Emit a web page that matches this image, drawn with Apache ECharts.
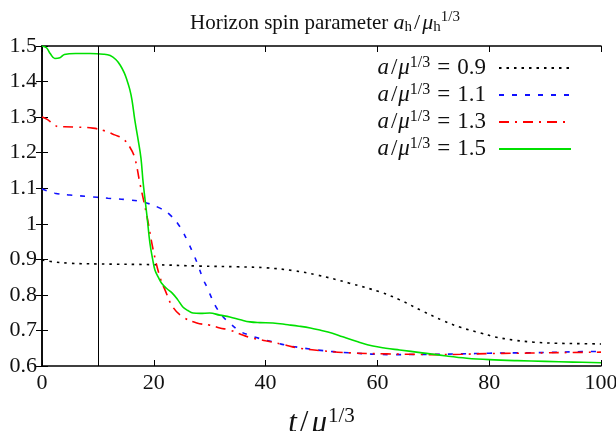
<!DOCTYPE html>
<html>
<head>
<meta charset="utf-8">
<script src="https://cdn.jsdelivr.net/npm/echarts@6/dist/echarts.min.js"></script>
<style>
html, body { margin: 0; padding: 0; background: #fff; }
#chart0 { width: 616px; height: 431px; }
</style>
</head>
<body>
<div id="chart0"></div>
<script>
'use strict';

// a/mu^(1/3) = 0.9
var t09 = [0, 2, 5, 10, 20, 28.3, 35, 40.2, 45, 49.2, 55, 60.5, 64, 68, 71.7, 75, 78.4, 81, 84.3, 88, 92, 96, 100];
var spin09 = [0.898, 0.893, 0.889, 0.887, 0.885, 0.881, 0.879, 0.876, 0.868, 0.856, 0.833, 0.808, 0.786, 0.755, 0.728, 0.708, 0.693, 0.682, 0.673, 0.667, 0.664, 0.663, 0.662];
// a/mu^(1/3) = 1.1
var t11 = [0, 2.3, 5, 8, 11.8, 15, 18.1, 21.1, 22.9, 24.7, 26.1, 27, 27.9, 28.8, 29.5, 31, 32.3, 33.5, 35.4, 37, 39, 41.5, 43.8, 46.5, 49.2, 55, 62.8, 70, 75, 80, 85, 90, 95, 100];
var spin11 = [1.098, 1.086, 1.081, 1.077, 1.072, 1.068, 1.061, 1.044, 1.025, 0.991, 0.949, 0.918, 0.884, 0.845, 0.822, 0.77, 0.74, 0.722, 0.698, 0.687, 0.677, 0.667, 0.658, 0.651, 0.645, 0.637, 0.632, 0.633, 0.634, 0.636, 0.637, 0.638, 0.64, 0.641];
// a/mu^(1/3) = 1.3
var t13 = [0, 1, 2, 3, 4, 6, 9.1, 11.3, 13, 14.5, 15.7, 16.6, 17.5, 18.8, 19.9, 21.1, 22, 23.4, 25.2, 27.7, 30, 31.8, 33.6, 35.4, 37, 40, 43, 46, 50, 55, 61.7, 66, 70, 75, 80, 85, 90, 95, 100];
var spin13 = [1.3, 1.293, 1.281, 1.273, 1.273, 1.272, 1.269, 1.261, 1.25, 1.239, 1.216, 1.185, 1.115, 1.019, 0.926, 0.85, 0.814, 0.766, 0.738, 0.721, 0.715, 0.707, 0.701, 0.69, 0.681, 0.671, 0.661, 0.65, 0.643, 0.637, 0.634, 0.633, 0.632, 0.633, 0.635, 0.636, 0.637, 0.638, 0.639];
// a/mu^(1/3) = 1.5
var t15 = [0, 0.8, 1.5, 2.3, 3.2, 4, 6, 8.6, 11, 12.2, 13.2, 14, 14.7, 15.2, 15.7, 16.1, 16.6, 17.2, 17.7, 18.1, 18.8, 19.3, 19.8, 20.2, 20.8, 21.4, 22.3, 23.3, 24.3, 25.2, 26.1, 27, 28.3, 30, 31.8, 33.6, 35.5, 37.2, 39, 41.3, 44, 46, 48, 49.7, 51.8, 53.8, 56.5, 59.2, 61.5, 64, 68, 72.4, 76, 80, 85, 90, 95, 100];
var spin15 = [1.5, 1.495, 1.478, 1.465, 1.467, 1.476, 1.479, 1.479, 1.477, 1.473, 1.462, 1.446, 1.425, 1.404, 1.378, 1.348, 1.292, 1.236, 1.185, 1.115, 1.019, 0.946, 0.9, 0.87, 0.85, 0.833, 0.818, 0.805, 0.786, 0.766, 0.756, 0.749, 0.748, 0.749, 0.743, 0.738, 0.73, 0.724, 0.722, 0.721, 0.716, 0.712, 0.707, 0.701, 0.693, 0.682, 0.668, 0.656, 0.65, 0.645, 0.637, 0.628, 0.622, 0.618, 0.615, 0.613, 0.611, 0.609];

var legendNames = ['0.9', '1.1', '1.3', '1.5'];
var tMarker = 10;

var serif = '"Liberation Serif", "DejaVu Serif", serif';

function pairs(ts, vs) {
	var out = [];
	for (var i = 0; i < ts.length; i++) {
		out.push([ts[i], vs[i]]);
	}
	return out;
}

var chart0 = echarts.init(document.getElementById('chart0'), null, { renderer : 'canvas' });

function lineSeries(name, ts, vs, color, type) {
	return {
		name : name,
		type : 'line',
		smooth : 0.4,
		symbol : 'none',
		lineStyle : { color : color, width : 1.6, type : type },
		itemStyle : { color : color },
		data : pairs(ts, vs),
		z : 3
	};
}

var blackSeries = lineSeries('0.9', t09, spin09, '#000', [ 2.5, 5 ]);
blackSeries.markLine = {
	silent : true,
	symbol : 'none',
	label : { show : false },
	lineStyle : { color : '#000', width : 1, type : 'solid' },
	data : [ { xAxis : tMarker } ]
};

var tickAxis = {
	axisLine : { lineStyle : { color : '#000', width : 1.5 } },
	axisTick : { inside : true, length : 6, lineStyle : { color : '#000' } },
	splitLine : { show : false }
};

chart0.setOption({
	animation : false,
	backgroundColor : '#fff',
	title : {
		text : 'Horizon spin parameter {i|a}{sub|h}{n|/}{i|μ}{sub|h}{sup|1/3}',
		left : 320,
		textAlign : 'center',
		top : 2,
		textStyle : {
			fontFamily : serif,
			fontWeight : 'normal',
			fontSize : 21,
			color : '#111',
			lineHeight : 32,
			rich : {
				i : { fontFamily : serif, fontStyle : 'italic', fontSize : 22, color : '#111' },
				n : { fontFamily : serif, fontSize : 22, color : '#111', padding : [ 0, 2, 0, 2 ] },
				sub : { fontFamily : serif, fontSize : 15, color : '#111', padding : [ 8, 0, 0, 0 ] },
				sup : { fontFamily : serif, fontSize : 15, color : '#111', padding : [ 0, 0, 12, 0 ] }
			}
		}
	},
	legend : {
		data : legendNames,
		orient : 'vertical',
		right : 39,
		top : 50,
		align : 'right',
		itemWidth : 72,
		itemHeight : 14,
		itemGap : 1,
		itemStyle : { opacity : 0 },
		formatter : function(name) {
			return '{i|a}{n|/}{i|μ}{sup|1/3}{eq|=}{n|' + name + '}';
		},
		textStyle : {
			padding : [ 0, 7, 0, 0 ],
			rich : {
				i : { fontFamily : serif, fontStyle : 'italic', fontSize : 23, color : '#111', lineHeight : 22 },
				n : { fontFamily : serif, fontSize : 23, color : '#111', lineHeight : 22, padding : [ 0, 1, 0, 2 ] },
				eq : { fontFamily : serif, fontSize : 23, color : '#111', lineHeight : 22, padding : [ 0, 5, 0, 7 ] },
				sup : { fontFamily : serif, fontSize : 16, color : '#111', lineHeight : 22, padding : [ 0, 0, 10, 0 ] }
			}
		}
	},
	grid : {
		left : 42,
		right : 15,
		top : 46,
		bottom : 65,
		containLabel : false,
		outerBoundsMode : 'none'
	},
	xAxis : [ echarts.util.merge({
		type : 'value',
		min : 0,
		max : 100,
		interval : 20,
		name : '{i|t}{n|/}{i|μ}{sup|1/3}',
		nameLocation : 'middle',
		nameGap : 40,
		nameTextStyle : {
			rich : {
				i : { fontFamily : serif, fontStyle : 'italic', fontSize : 31, color : '#111' },
				n : { fontFamily : serif, fontSize : 31, color : '#111', padding : [ 0, 3, 0, 3 ] },
				sup : { fontFamily : serif, fontSize : 21, color : '#111', padding : [ 0, 0, 14, 1 ] }
			}
		},
		axisLabel : { fontFamily : serif, fontSize : 22, color : '#111', margin : 6 }
	}, tickAxis, true), echarts.util.merge({
		type : 'value',
		position : 'top',
		min : 0,
		max : 100,
		interval : 20,
		axisLabel : { show : false }
	}, tickAxis, true) ],
	yAxis : [ echarts.util.merge({
		type : 'value',
		min : 0.6,
		max : 1.5,
		interval : 0.1,
		axisLabel : {
			fontFamily : serif,
			fontSize : 22,
			color : '#111',
			margin : 5,
			formatter : function(v) {
				var r = Math.round(v * 10) / 10;
				return r === 1 ? '1' : r.toFixed(1);
			}
		}
	}, tickAxis, true), echarts.util.merge({
		type : 'value',
		position : 'right',
		min : 0.6,
		max : 1.5,
		interval : 0.1,
		axisLabel : { show : false }
	}, tickAxis, true) ],
	series : [
		blackSeries,
		lineSeries('1.1', t11, spin11, '#1010ff', [ 5, 8 ]),
		lineSeries('1.3', t13, spin13, '#ff0000', [ 10, 6, 2, 6 ]),
		lineSeries('1.5', t15, spin15, '#00e000', 'solid')
	]
});
</script>
</body>
</html>
